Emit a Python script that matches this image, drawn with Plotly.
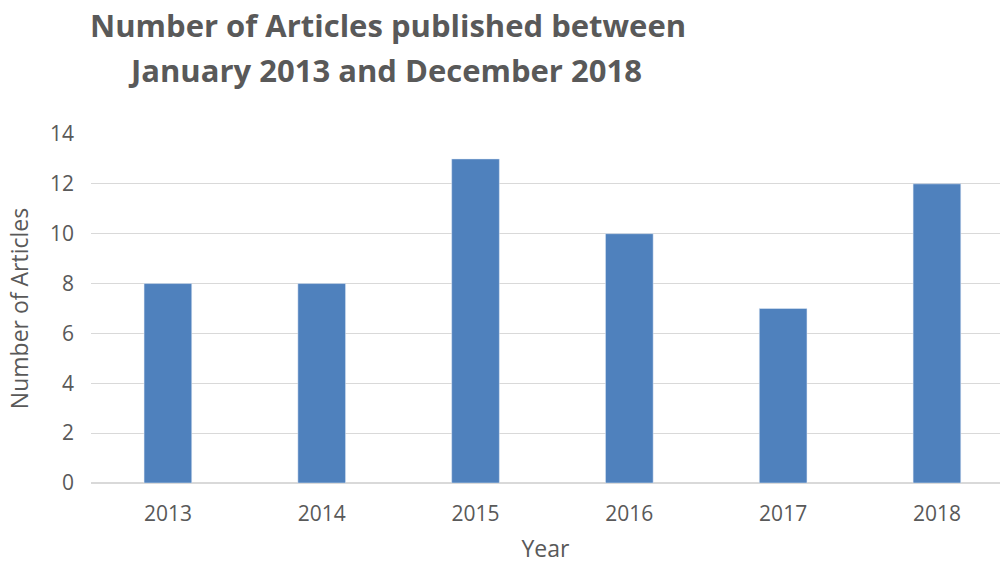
import plotly.graph_objects as go

years = ["2013", "2014", "2015", "2016", "2017", "2018"]
articles = [8, 8, 13, 10, 7, 12]
title_lines = ["Number of Articles published between", "January 2013 and December 2018"]

fig = go.Figure()
fig.add_trace(go.Bar(x=years, y=articles, marker_color="#4f81bd", width=0.31))

for i, (line, ypx) in enumerate(zip(title_lines, [25, 70])):
    fig.add_annotation(
        text=line, showarrow=False,
        xref="paper", yref="paper", x=(388-91)/909 if i == 0 else (385-91)/909,
        y=1+(134-ypx)/349,
        xanchor="center", yanchor="middle", align="center",
        font=dict(family="Open Sans", size=31, color="#595959", weight="bold"),
    )

fig.update_layout(
    width=1003, height=564,
    margin=dict(l=91, r=3, t=134, b=81),
    plot_bgcolor="white", paper_bgcolor="white",
    showlegend=False,
    font=dict(family="Open Sans", color="#595959", size=21),
    xaxis=dict(
        type="category", range=[-0.5, 5.41],
        title=dict(text="Year", font=dict(size=23), standoff=14),
        tickfont=dict(size=21), showgrid=False, showline=False, ticks="",
        ticklabelstandoff=16,
    ),
    yaxis=dict(
        range=[0, 14], dtick=2, tickfont=dict(size=21),
        gridcolor="#d9d9d9", gridwidth=1, zeroline=True, zerolinecolor="#d9d9d9",
        title=dict(text="Number of Articles", font=dict(size=23), standoff=14),
        ticks="", ticklabelstandoff=16,
    ),
)

fig.write_html("out.html")
